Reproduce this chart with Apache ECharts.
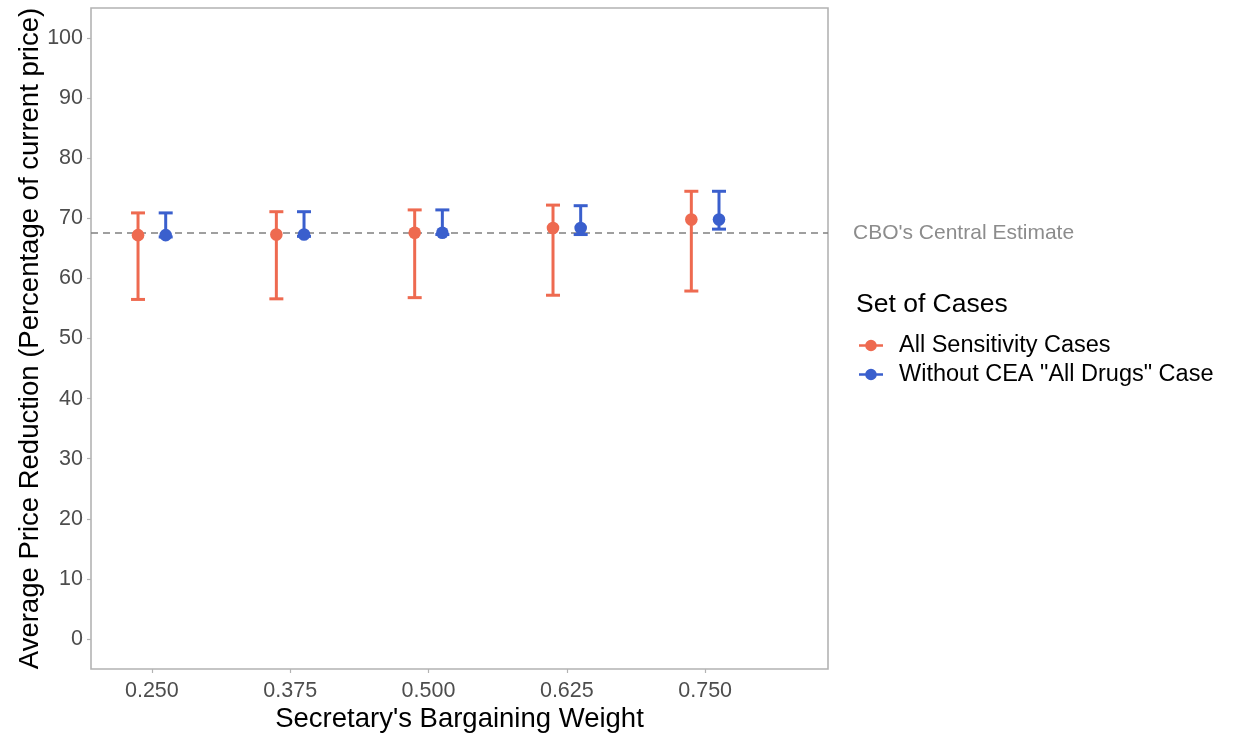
<!DOCTYPE html>
<html>
<head>
<meta charset="utf-8">
<script src="https://cdn.jsdelivr.net/npm/echarts@6/dist/echarts.min.js"></script>
<style>html,body{margin:0;padding:0;background:#fff}#c{width:1233px;height:735px}</style>
</head>
<body>
<div id="c"></div>
<script>
// ---- data ----
const weights = [0.250, 0.375, 0.500, 0.625, 0.750];
const tickLabels = ['0.250', '0.375', '0.500', '0.625', '0.750'];
const yTicks = [0, 10, 20, 30, 40, 50, 60, 70, 80, 90, 100];
const allMean = [67.2, 67.3, 67.6, 68.4, 69.8];
const allLow  = [56.5, 56.6, 56.8, 57.2, 57.9];
const allHigh = [70.9, 71.1, 71.4, 72.2, 74.5];
const woMean  = [67.2, 67.3, 67.6, 68.4, 69.8];
const woLow   = [66.9, 67.0, 67.3, 67.3, 68.2];
const woHigh  = [70.9, 71.1, 71.4, 72.1, 74.5];
const cboEstimate = 67.6;
const seriesNames = ['All Sensitivity Cases', 'Without CEA "All Drugs" Case'];

// ---- style ----
const RED = '#EE6A50', BLUE = '#3A5FCD';
const DODGE = 0.0125;
const FONT = 'Arial, "Liberation Sans", sans-serif';

function rows(lo, mid, hi) {
  return weights.map((w, i) => [w, lo[i], mid[i], hi[i]]);
}
function makeRender(color, sign) {
  return function (params, api) {
    const x = api.value(0), lo = api.value(1), mid = api.value(2), hi = api.value(3);
    const p = api.coord([x, mid]);
    const dx = api.size([DODGE, 0])[0] * sign;
    const cx = p[0] + dx;
    const yLo = api.coord([x, lo])[1];
    const yHi = api.coord([x, hi])[1];
    const cap = 7;
    const st = { stroke: color, lineWidth: 3 };
    return {
      type: 'group',
      children: [
        { type: 'line', shape: { x1: cx, y1: yLo, x2: cx, y2: yHi }, style: st },
        { type: 'line', shape: { x1: cx - cap, y1: yHi, x2: cx + cap, y2: yHi }, style: st },
        { type: 'line', shape: { x1: cx - cap, y1: yLo, x2: cx + cap, y2: yLo }, style: st },
        { type: 'circle', shape: { cx: cx, cy: p[1], r: 6.3 }, style: { fill: color } }
      ]
    };
  };
}
const legendIcon = 'path://M0,8.8 L24,8.8 L24,11.2 L0,11.2 Z M12,4.2 A5.8,5.8 0 1,1 11.99,4.2 Z';

const chart = echarts.init(document.getElementById('c'), null, { renderer: 'canvas' });
chart.setOption({
  backgroundColor: '#fff',
  animation: false,
  textStyle: { fontFamily: FONT },
  grid: {
    left: 91, right: 405, top: 8, bottom: 66,
    containLabel: false, outerBoundsMode: 'none',
    show: true, borderColor: '#b3b3b3', borderWidth: 1.6, backgroundColor: '#fff'
  },
  xAxis: {
    type: 'value', min: 0.195, max: 0.861,
    name: "Secretary's Bargaining Weight", nameLocation: 'middle', nameGap: 36,
    nameMoveOverlap: false,
    nameTextStyle: { fontSize: 27.5, color: '#000', fontFamily: FONT },
    axisLine: { show: false, onZero: false },
    splitLine: { show: false },
    axisTick: { show: true, customValues: weights, length: 4, lineStyle: { color: '#b3b3b3', width: 1.2 } },
    axisLabel: {
      customValues: weights, fontSize: 21.5, color: '#4d4d4d', margin: 11, fontFamily: FONT,
      formatter: v => { const i = weights.indexOf(v); return i >= 0 ? tickLabels[i] : ''; }
    }
  },
  yAxis: {
    type: 'value', min: -5, max: 105,
    name: 'Average Price Reduction (Percentage of current price)', nameLocation: 'middle', nameGap: 47,
    nameMoveOverlap: false,
    nameTextStyle: { fontSize: 27.5, color: '#000', fontFamily: FONT },
    axisLine: { show: false, onZero: false },
    splitLine: { show: false },
    axisTick: { show: true, customValues: yTicks, length: 4, lineStyle: { color: '#b3b3b3', width: 1.2 } },
    axisLabel: { customValues: yTicks, fontSize: 21.5, color: '#4d4d4d', margin: 8, fontFamily: FONT }
  },
  legend: {
    orient: 'vertical', left: 859, top: 331, padding: 0,
    itemWidth: 24, itemHeight: 14, itemGap: 0,
    textStyle: { fontSize: 23.5, lineHeight: 29, color: '#000', fontFamily: FONT, padding: [0, 0, 0, 11] },
    data: [
      { name: seriesNames[0], icon: legendIcon, itemStyle: { color: RED } },
      { name: seriesNames[1], icon: legendIcon, itemStyle: { color: BLUE } }
    ]
  },
  graphic: [{
    type: 'text', left: 856, top: 291,
    style: { text: 'Set of Cases', fontSize: 26.5, fill: '#000', fontFamily: FONT }
  }],
  series: [
    {
      name: seriesNames[0], type: 'custom', itemStyle: { color: RED },
      renderItem: makeRender(RED, -1), data: rows(allLow, allMean, allHigh),
      encode: { x: 0, y: [1, 2, 3] }, z: 3,
      markLine: {
        silent: true, symbol: 'none', z: 1,
        lineStyle: { color: '#808080', type: [7, 5], width: 1.5 },
        label: {
          show: true, position: 'end', distance: 25, formatter: "CBO's Central Estimate",
          fontSize: 21, color: '#8c8c8c', fontFamily: FONT
        },
        data: [{ yAxis: cboEstimate }]
      }
    },
    {
      name: seriesNames[1], type: 'custom', itemStyle: { color: BLUE },
      renderItem: makeRender(BLUE, 1), data: rows(woLow, woMean, woHigh),
      encode: { x: 0, y: [1, 2, 3] }, z: 3
    }
  ]
});
</script>
</body>
</html>
